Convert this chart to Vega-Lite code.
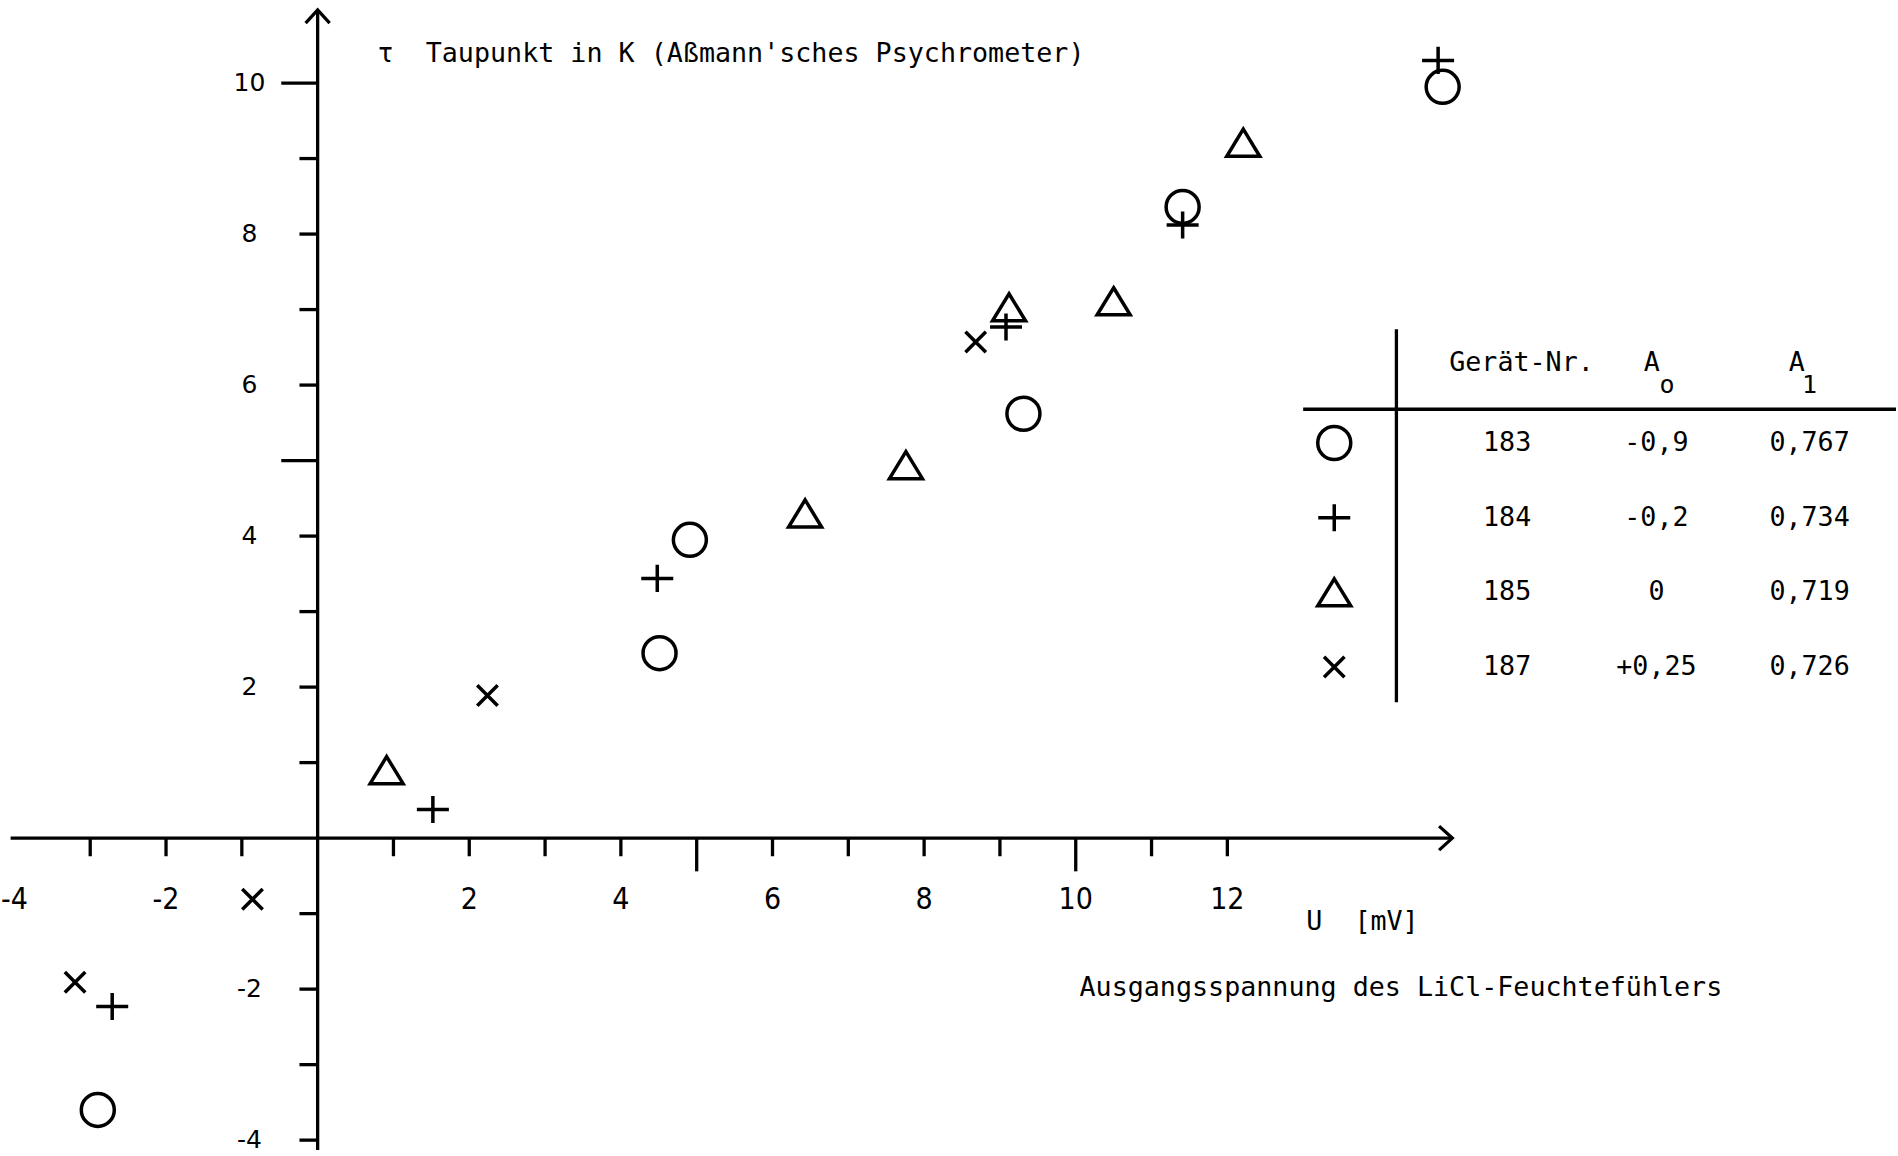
{
  "$schema": "https://vega.github.io/schema/vega-lite/v6.json",
  "width": 1898,
  "height": 1156,
  "autosize": {"type": "fit", "contains": "padding"},
  "padding": 0,
  "background": "white",
  "config": {"view": {"stroke": null}},
  "datasets": {
    "pts": [
      {"geraet": "183", "U": -2.90, "tau": -3.60},
      {"geraet": "183", "U": 4.51, "tau": 2.45},
      {"geraet": "183", "U": 4.91, "tau": 3.95},
      {"geraet": "183", "U": 9.31, "tau": 5.62},
      {"geraet": "183", "U": 11.41, "tau": 8.36},
      {"geraet": "183", "U": 14.84, "tau": 9.95},
      {"geraet": "184", "U": -2.71, "tau": -2.23},
      {"geraet": "184", "U": 1.52, "tau": 0.38},
      {"geraet": "184", "U": 4.48, "tau": 3.44},
      {"geraet": "184", "U": 9.08, "tau": 6.77},
      {"geraet": "184", "U": 11.41, "tau": 8.12},
      {"geraet": "184", "U": 14.78, "tau": 10.30},
      {"geraet": "185", "U": 0.91, "tau": 0.90},
      {"geraet": "185", "U": 6.43, "tau": 4.30},
      {"geraet": "185", "U": 7.76, "tau": 4.94},
      {"geraet": "185", "U": 9.12, "tau": 7.03},
      {"geraet": "185", "U": 10.50, "tau": 7.11},
      {"geraet": "185", "U": 12.21, "tau": 9.21},
      {"geraet": "187", "U": -3.20, "tau": -1.91},
      {"geraet": "187", "U": -0.86, "tau": -0.81},
      {"geraet": "187", "U": 2.24, "tau": 1.89},
      {"geraet": "187", "U": 8.68, "tau": 6.57}
    ],
    "xticks": [
      {"v": -3, "major": false}, {"v": -2, "major": false}, {"v": -1, "major": false},
      {"v": 1, "major": false}, {"v": 2, "major": false}, {"v": 3, "major": false},
      {"v": 4, "major": false}, {"v": 5, "major": true}, {"v": 6, "major": false},
      {"v": 7, "major": false}, {"v": 8, "major": false}, {"v": 9, "major": false},
      {"v": 10, "major": true}, {"v": 11, "major": false}, {"v": 12, "major": false}
    ],
    "yticks": [
      {"v": -4, "major": false}, {"v": -3, "major": false}, {"v": -2, "major": false},
      {"v": -1, "major": false}, {"v": 1, "major": false}, {"v": 2, "major": false},
      {"v": 3, "major": false}, {"v": 4, "major": false}, {"v": 5, "major": true},
      {"v": 6, "major": false}, {"v": 7, "major": false}, {"v": 8, "major": false},
      {"v": 9, "major": false}, {"v": 10, "major": true}
    ],
    "xlabels": [
      {"v": -4, "label": "-4"}, {"v": -2, "label": "-2"}, {"v": 2, "label": "2"},
      {"v": 4, "label": "4"}, {"v": 6, "label": "6"}, {"v": 8, "label": "8"},
      {"v": 10, "label": "10"}, {"v": 12, "label": "12"}
    ],
    "ylabels": [
      {"v": 10, "label": "10"}, {"v": 8, "label": "8"}, {"v": 6, "label": "6"},
      {"v": 4, "label": "4"}, {"v": 2, "label": "2"}, {"v": -2, "label": "-2"},
      {"v": -4, "label": "-4"}
    ],
    "table": [
      {"geraet": "183", "a0": "-0,9", "a1": "0,767"},
      {"geraet": "184", "a0": "-0,2", "a1": "0,734"},
      {"geraet": "185", "a0": "0", "a1": "0,719"},
      {"geraet": "187", "a0": "+0,25", "a1": "0,726"}
    ]
  },
  "layer": [
    {
      "layer": [
        {
          "data": {"name": "pts"},
          "mark": {"type": "point", "filled": false, "opacity": 1, "color": "black", "strokeWidth": 3.5, "size": 1089},
          "encoding": {
            "x": {"field": "U", "type": "quantitative", "scale": {"domain": [-4.19, 20.82], "nice": false, "zero": false}, "axis": null},
            "y": {"field": "tau", "type": "quantitative", "scale": {"domain": [-4.21, 11.10], "nice": false, "zero": false}, "axis": null},
            "shape": {
              "field": "geraet", "type": "nominal",
              "scale": {
                "domain": ["183", "184", "185", "187"],
                "range": ["circle", "M-0.97,0L0.97,0M0,-0.82L0,0.82", "M0,-0.82L1,0.82L-1,0.82Z", "M-0.62,-0.62L0.62,0.62M-0.62,0.62L0.62,-0.62"]
              },
              "legend": null
            }
          }
        },
        {
          "data": {"values": [{}]},
          "mark": {"type": "rule", "strokeWidth": 3.3, "color": "black"},
          "encoding": {"x": {"datum": -4.05}, "x2": {"datum": 14.95}, "y": {"datum": 0}}
        },
        {
          "data": {"values": [{}]},
          "mark": {"type": "rule", "strokeWidth": 3.3, "color": "black"},
          "encoding": {"x": {"datum": 0}, "y": {"datum": -4.13}, "y2": {"datum": 10.95}}
        },
        {
          "data": {"values": [{}]},
          "mark": {"type": "point", "filled": false, "opacity": 1, "color": "black", "strokeWidth": 3.3, "size": 576, "shape": "M-0.55,-1L0.55,0L-0.55,1"},
          "encoding": {"x": {"datum": 14.88}, "y": {"datum": 0}}
        },
        {
          "data": {"values": [{}]},
          "mark": {"type": "point", "filled": false, "opacity": 1, "color": "black", "strokeWidth": 3.3, "size": 576, "shape": "M-1,0.55L0,-0.55L1,0.55"},
          "encoding": {"x": {"datum": 0}, "y": {"datum": 10.88}}
        },
        {
          "data": {"name": "xticks"},
          "transform": [{"filter": "!datum.major"}],
          "mark": {"type": "rule", "strokeWidth": 3.3, "color": "black"},
          "encoding": {"x": {"field": "v", "type": "quantitative"}, "y": {"datum": 0}, "y2": {"datum": -0.24}}
        },
        {
          "data": {"name": "xticks"},
          "transform": [{"filter": "datum.major"}],
          "mark": {"type": "rule", "strokeWidth": 3.3, "color": "black"},
          "encoding": {"x": {"field": "v", "type": "quantitative"}, "y": {"datum": 0}, "y2": {"datum": -0.44}}
        },
        {
          "data": {"name": "yticks"},
          "transform": [{"filter": "!datum.major"}],
          "mark": {"type": "rule", "strokeWidth": 3.3, "color": "black"},
          "encoding": {"y": {"field": "v", "type": "quantitative"}, "x": {"datum": -0.24}, "x2": {"datum": 0}}
        },
        {
          "data": {"name": "yticks"},
          "transform": [{"filter": "datum.major"}],
          "mark": {"type": "rule", "strokeWidth": 3.3, "color": "black"},
          "encoding": {"y": {"field": "v", "type": "quantitative"}, "x": {"datum": -0.48}, "x2": {"datum": 0}}
        },
        {
          "data": {"name": "xlabels"},
          "mark": {"type": "text", "font": "Liberation Sans Narrow, DejaVu Sans Condensed, DejaVu Sans", "fontSize": 30, "align": "center", "baseline": "middle", "color": "black"},
          "encoding": {"x": {"field": "v", "type": "quantitative"}, "y": {"datum": -0.82}, "text": {"field": "label"}}
        },
        {
          "data": {"name": "ylabels"},
          "mark": {"type": "text", "font": "DejaVu Sans", "fontSize": 25, "align": "center", "baseline": "middle", "color": "black"},
          "encoding": {"y": {"field": "v", "type": "quantitative"}, "x": {"datum": -0.9}, "text": {"field": "label"}}
        },
        {
          "data": {"values": [{}]},
          "mark": {"type": "text", "font": "DejaVu Sans Mono", "fontSize": 26.7, "align": "left", "baseline": "middle", "color": "black", "text": "τ\u00a0 Taupunkt in K (Aßmann'sches Psychrometer)"},
          "encoding": {"x": {"datum": 0.79}, "y": {"datum": 10.38}}
        },
        {
          "data": {"values": [{}]},
          "mark": {"type": "text", "font": "DejaVu Sans Mono", "fontSize": 26.7, "align": "left", "baseline": "middle", "color": "black", "text": "U\u00a0 [mV]"},
          "encoding": {"x": {"datum": 13.04}, "y": {"datum": -1.11}}
        },
        {
          "data": {"values": [{}]},
          "mark": {"type": "text", "font": "DejaVu Sans Mono", "fontSize": 26.7, "align": "left", "baseline": "middle", "color": "black", "text": "Ausgangsspannung des LiCl-Feuchtefühlers"},
          "encoding": {"x": {"datum": 10.05}, "y": {"datum": -1.99}}
        },
        {
          "data": {"values": [{}]},
          "mark": {"type": "rule", "strokeWidth": 3.3, "color": "black"},
          "encoding": {"x": {"datum": 14.23}, "y": {"datum": 6.74}, "y2": {"datum": 1.80}}
        },
        {
          "data": {"values": [{}]},
          "mark": {"type": "rule", "strokeWidth": 3.3, "color": "black"},
          "encoding": {"x": {"datum": 13.0}, "x2": {"datum": 20.82}, "y": {"datum": 5.68}}
        },
        {
          "data": {"values": [{}]},
          "mark": {"type": "text", "font": "DejaVu Sans Mono", "fontSize": 26.7, "align": "center", "baseline": "middle", "color": "black", "text": "Gerät-Nr."},
          "encoding": {"x": {"datum": 15.88}, "y": {"datum": 6.29}}
        },
        {
          "data": {"values": [{}]},
          "mark": {"type": "text", "font": "DejaVu Sans Mono", "fontSize": 26.7, "align": "center", "baseline": "middle", "color": "black", "text": "A"},
          "encoding": {"x": {"datum": 17.60}, "y": {"datum": 6.29}}
        },
        {
          "data": {"values": [{}]},
          "mark": {"type": "text", "font": "DejaVu Sans Mono", "fontSize": 25, "align": "center", "baseline": "middle", "color": "black", "text": "o"},
          "encoding": {"x": {"datum": 17.80}, "y": {"datum": 6.00}}
        },
        {
          "data": {"values": [{}]},
          "mark": {"type": "text", "font": "DejaVu Sans Mono", "fontSize": 26.7, "align": "center", "baseline": "middle", "color": "black", "text": "A"},
          "encoding": {"x": {"datum": 19.51}, "y": {"datum": 6.29}}
        },
        {
          "data": {"values": [{}]},
          "mark": {"type": "text", "font": "DejaVu Sans Mono", "fontSize": 25, "align": "center", "baseline": "middle", "color": "black", "text": "1"},
          "encoding": {"x": {"datum": 19.68}, "y": {"datum": 6.00}}
        }
      ]
    },
    {
      "data": {"name": "table"},
      "encoding": {
        "y": {"field": "geraet", "type": "ordinal", "scale": {"domain": ["183", "184", "185", "187"], "range": [443, 667], "padding": 0}, "axis": null}
      },
      "layer": [
        {
          "mark": {"type": "point", "filled": false, "opacity": 1, "color": "black", "strokeWidth": 3.5, "size": 1089},
          "encoding": {
            "x": {"datum": 13.41, "type": "quantitative"},
            "shape": {"field": "geraet", "type": "nominal", "legend": null}
          }
        },
        {
          "mark": {"type": "text", "font": "DejaVu Sans Mono", "fontSize": 26.7, "align": "center", "baseline": "middle", "color": "black"},
          "encoding": {"x": {"datum": 15.69, "type": "quantitative"}, "text": {"field": "geraet"}}
        },
        {
          "mark": {"type": "text", "font": "DejaVu Sans Mono", "fontSize": 26.7, "align": "center", "baseline": "middle", "color": "black"},
          "encoding": {"x": {"datum": 17.66, "type": "quantitative"}, "text": {"field": "a0"}}
        },
        {
          "mark": {"type": "text", "font": "DejaVu Sans Mono", "fontSize": 26.7, "align": "center", "baseline": "middle", "color": "black"},
          "encoding": {"x": {"datum": 19.68, "type": "quantitative"}, "text": {"field": "a1"}}
        }
      ]
    }
  ],
  "resolve": {"scale": {"y": "independent"}}
}
